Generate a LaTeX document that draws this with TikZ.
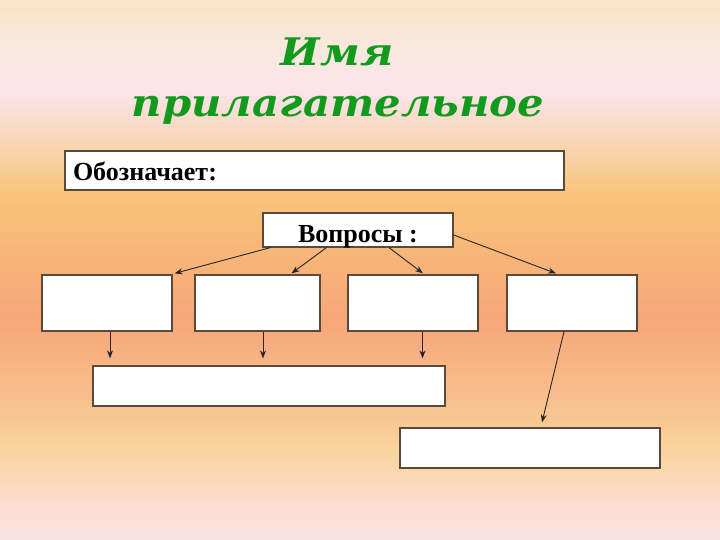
\documentclass[tikz,border=0pt]{standalone}
\usepackage{fontspec}
\setmainfont{Liberation Serif}
\newfontfamily\titlefont[FakeStretch=1.1]{DejaVu Serif}
\usetikzlibrary{arrows.meta,calc}
\definecolor{g0}{HTML}{FBE3C4}
\definecolor{g1}{HTML}{F9E8D8}
\definecolor{g2}{HTML}{FCE4EC}
\definecolor{g3}{HTML}{F8D6B8}
\definecolor{g4}{HTML}{F8C47A}
\definecolor{g5}{HTML}{F8B478}
\definecolor{g6}{HTML}{F7A67A}
\definecolor{g7}{HTML}{F8C08E}
\definecolor{g8}{HTML}{F9D49E}
\definecolor{g9}{HTML}{FBDCCC}
\definecolor{g10}{HTML}{FBE2E4}
\definecolor{titlegreen}{HTML}{129A1C}
\definecolor{boxline}{HTML}{5A4A3A}
\tikzset{
  box/.style={draw=boxline, line width=1.2pt, fill=white, inner sep=0pt},
  arr/.style={draw=black!85, line width=0.9pt, -{Stealth[length=8pt,width=6pt]}},
  titletext/.style={text=titlegreen, font=\titlefont\fontsize{38}{44}\selectfont\bfseries\itshape, inner sep=0pt, anchor=base},
  boxtext/.style={font=\fontsize{26}{30}\selectfont\bfseries}
}
\begin{document}
\begin{tikzpicture}[x=1pt,y=-1pt]
\useasboundingbox (0,0) rectangle (720,540);
\shade[top color=g0, bottom color=g1] (0,0) rectangle (720,30);
\shade[top color=g1, bottom color=g2] (0,30) rectangle (720,90);
\shade[top color=g2, bottom color=g3] (0,90) rectangle (720,140);
\shade[top color=g3, bottom color=g4] (0,140) rectangle (720,195);
\shade[top color=g4, bottom color=g5] (0,195) rectangle (720,260);
\shade[top color=g5, bottom color=g6] (0,260) rectangle (720,320);
\shade[top color=g6, bottom color=g7] (0,320) rectangle (720,400);
\shade[top color=g7, bottom color=g8] (0,400) rectangle (720,450);
\shade[top color=g8, bottom color=g9] (0,450) rectangle (720,500);
\shade[top color=g9, bottom color=g10] (0,500) rectangle (720,540);

\node[titletext] (t1) at (337,66) {Имя};
\node[titletext] (t2) at (338,117) {прилагательное};

\node[box, boxtext, minimum width=499pt, minimum height=39pt, text width=483pt, inner xsep=8pt, align=left, text height=21pt, text depth=0pt] (obozn) at (314.5,170.5) {Обозначает:};
\node[box, boxtext, minimum width=190pt, minimum height=34pt, text height=24pt, text depth=0pt] (vopr) at (358,230) {Вопросы :};

\node[box, minimum width=130pt, minimum height=56pt] (b1) at (107,303) {};
\node[box, minimum width=125pt, minimum height=56pt] (b2) at (257.5,303) {};
\node[box, minimum width=130pt, minimum height=56pt] (b3) at (413,303) {};
\node[box, minimum width=130pt, minimum height=56pt] (b4) at (572,303) {};
\node[box, minimum width=352pt, minimum height=40pt] (b5) at (269,386) {};
\node[box, minimum width=260pt, minimum height=40pt] (b6) at (530,448) {};

\draw[arr] ($(vopr.south west)+(8,0)$) -- ($(b1.north east)+(2,-1)$);
\draw[arr] ($(vopr.south west)+(64,0)$) -- ($(b2.north)+(34,-1)$);
\draw[arr] ($(vopr.south)+(31,0)$) -- ($(b3.north)+(10,-1)$);
\draw[arr] ($(vopr.east)+(0,5)$) -- ($(b4.north)+(-16,-1)$);

\draw[arr] ($(b1.south)+(3,0)$) -- ($(b1.south |- b5.north)+(3,-7)$);
\draw[arr] ($(b2.south)+(5.5,0)$) -- ($(b2.south |- b5.north)+(5.5,-7)$);
\draw[arr] ($(b3.south)+(9.5,0)$) -- ($(b3.south |- b5.north)+(9.5,-7)$);
\draw[arr] ($(b4.south)+(-8,0)$) -- ($(b6.north)+(12,-5)$);
\end{tikzpicture}
\end{document}
